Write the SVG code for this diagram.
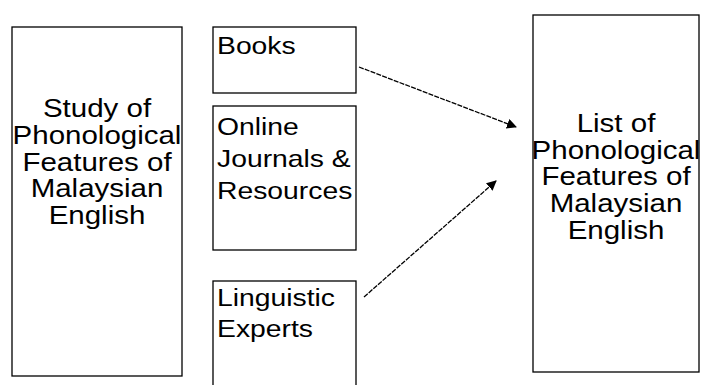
<svg xmlns="http://www.w3.org/2000/svg" width="701" height="385" viewBox="0 0 701 385">
<defs>
<style>
.box{fill:#fff;stroke:#000;stroke-width:1.3}
.t{font-family:"Liberation Sans",Arial,sans-serif;font-size:25px;fill:#000}
.s{font-size:24px}
.c{text-anchor:middle}
.conn{stroke:#000;stroke-width:1.3;fill:none;stroke-dasharray:5 1.2}
</style>
<marker id="ah" viewBox="0 0 10 10" refX="9" refY="5" markerWidth="10" markerHeight="10" markerUnits="userSpaceOnUse" orient="auto">
<path d="M0,0 L10,5 L0,10 z" fill="#000"/>
</marker>
</defs>
<rect width="701" height="385" fill="#fff"/>
<g id="study">
<rect class="box" x="12" y="27" width="170" height="349"/>
<g transform="translate(97,0) scale(1.18,1)">
<text class="t c" x="0" y="117">Study of</text>
<text class="t c" x="0" y="144">Phonological</text>
<text class="t c" x="0" y="171">Features of</text>
<text class="t c" x="0" y="197">Malaysian</text>
<text class="t c" x="0" y="224">English</text>
</g>
</g>
<g id="books">
<rect class="box" x="213" y="27" width="143" height="66"/>
<g transform="translate(217,0) scale(1.18,1)">
<text class="t s" x="0" y="54">Books</text>
</g>
</g>
<g id="online">
<rect class="box" x="213" y="106" width="143" height="144"/>
<g transform="translate(217,0) scale(1.18,1)">
<text class="t s" x="0" y="135">Online</text>
<text class="t s" x="0" y="167">Journals &amp;</text>
<text class="t s" x="0" y="199">Resources</text>
</g>
</g>
<g id="experts">
<rect class="box" x="213" y="281" width="143" height="110"/>
<g transform="translate(217,0) scale(1.18,1)">
<text class="t s" x="0" y="306">Linguistic</text>
<text class="t s" x="0" y="337">Experts</text>
</g>
</g>
<g id="list">
<rect class="box" x="533" y="15" width="166" height="357"/>
<g transform="translate(616,0) scale(1.18,1)">
<text class="t c" x="0" y="132">List of</text>
<text class="t c" x="0" y="159">Phonological</text>
<text class="t c" x="0" y="185">Features of</text>
<text class="t c" x="0" y="212">Malaysian</text>
<text class="t c" x="0" y="239">English</text>
</g>
</g>
<g id="connectors">
<line class="conn" x1="359" y1="67" x2="516" y2="127" marker-end="url(#ah)"/>
<line class="conn" x1="364" y1="297" x2="496" y2="181" marker-end="url(#ah)"/>
</g>
</svg>
